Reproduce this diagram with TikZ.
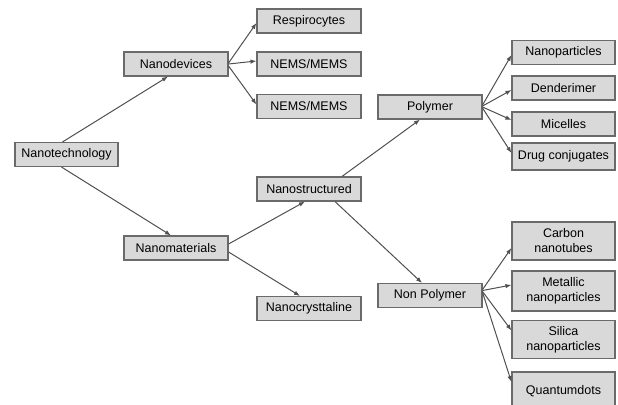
\documentclass[tikz,border=0pt]{standalone}
\usepackage{fontspec}
\setmainfont{Liberation Sans}
\usetikzlibrary{arrows.meta}
\definecolor{boxfill}{HTML}{D9D9D9}
\definecolor{boxline}{HTML}{6A6A6A}
\definecolor{linkgray}{HTML}{505050}
\begin{document}
\begin{tikzpicture}[x=1pt, y=-1pt,
    box/.style={draw=boxline, fill=boxfill, line width=1.1pt, minimum width=104pt, minimum height=24pt, inner sep=0pt, align=center, font=\fontsize{12.5}{15}\selectfont},
    tall/.style={box, minimum height=38pt},
    link/.style={draw=linkgray, line width=1pt, -{Latex[length=6pt,width=4.5pt]}}]
    \useasboundingbox (0,0) rectangle (618,404);
    % Root
    \node[box, minimum width=103pt] (tech) at (66.5,154.5) {Nanotechnology};
    % Second level
    \node[box] (dev) at (176,64) {Nanodevices};
    \node[box] (mat) at (176,248) {Nanomaterials};
    % Devices
    \node[box] (resp) at (309,21) {Respirocytes};
    \node[box] (nemsa) at (309,64) {NEMS/MEMS};
    \node[box] (nemsb) at (309,106.5) {NEMS/MEMS};
    % Materials
    \node[box] (struct) at (309,189) {Nanostructured};
    \node[box] (cryst) at (309,308.5) {Nanocrysttaline};
    \node[box] (poly) at (430,107) {Polymer};
    \node[box] (nonpoly) at (430,295.5) {Non Polymer};
    % Polymer kinds
    \node[box, minimum width=103pt] (npart) at (563.5,52.5) {Nanoparticles};
    \node[box, minimum width=103pt] (dend) at (563.5,88) {Denderimer};
    \node[box, minimum width=103pt] (mic) at (563.5,124) {Micelles};
    \node[box, minimum width=103pt, minimum height=27pt] (drug) at (563.5,156.5) {Drug conjugates};
    % Non polymer kinds
    \node[tall, minimum width=103pt] (cnt) at (563.5,241) {Carbon\\nanotubes};
    \node[tall, minimum width=103pt, minimum height=40pt] (metal) at (563.5,291) {Metallic\\nanoparticles};
    \node[tall, minimum width=103pt] (silica) at (563.5,339.5) {Silica\\nanoparticles};
    \node[tall, minimum width=103pt] (qdot) at (563.5,391) {Quantumdots};
    % Arrows
    \draw[link] ([xshift=-4pt]tech.north) -- ([xshift=-8pt]dev.south);
    \draw[link] ([xshift=-5pt]tech.south) -- ([xshift=-5pt]mat.north);
    \draw[link] ([yshift=1pt]dev.east) -- ([yshift=-2pt]resp.west);
    \draw[link] (dev.east) -- ([yshift=3pt]nemsa.west);
    \draw[link] ([yshift=-2pt]dev.east) -- ([yshift=2pt]nemsb.west);
    \draw[link] ([yshift=4pt]mat.east) -- ([xshift=-4pt]struct.south);
    \draw[link] ([yshift=-4pt]mat.east) -- ([xshift=-9pt]cryst.north);
    \draw[link] ([xshift=33pt]struct.north) -- ([xshift=-10pt]poly.south);
    \draw[link] ([xshift=26pt]struct.south) -- ([xshift=-8pt]nonpoly.north);
    \draw[link] ([yshift=2pt]poly.east) -- ([yshift=-2.5pt]npart.west);
    \draw[link] ([yshift=1pt]poly.east) -- ([yshift=-2pt]dend.west);
    \draw[link] (poly.east) -- ([yshift=4pt]mic.west);
    \draw[link] ([yshift=-1pt]poly.east) -- ([yshift=3.5pt]drug.west);
    \draw[link] ([yshift=6pt]nonpoly.east) -- ([yshift=-7pt]cnt.west);
    \draw[link] ([yshift=5pt]nonpoly.east) -- ([yshift=6pt]metal.west);
    \draw[link] ([yshift=4pt]nonpoly.east) -- ([yshift=9pt]silica.west);
    \draw[link] ([yshift=3pt]nonpoly.east) -- ([yshift=9pt]qdot.west);
\end{tikzpicture}
\end{document}
